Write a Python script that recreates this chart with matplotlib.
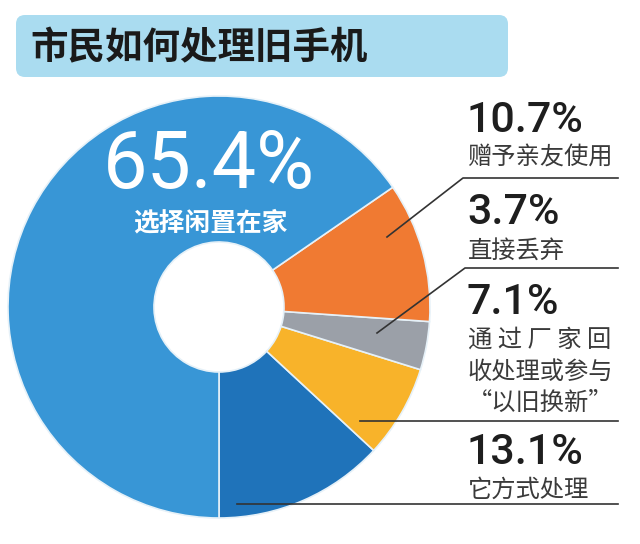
import matplotlib
matplotlib.use("Agg")
import matplotlib.pyplot as plt
from matplotlib.patches import FancyBboxPatch

plt.rcParams['font.family'] = ['Noto Sans CJK SC', 'DejaVu Sans']

# data, counter-clockwise from the bottom
shares = [13.1, 7.1, 3.7, 10.7, 65.4]
colors = ['#1f73ba', '#f8b32a', '#9ba0a8', '#f07a32', '#3896d6']
title = '市民如何处理旧手机'
main_pct = '65.4%'
main_text = '选择闲置在家'
side_pcts = ['10.7%', '3.7%', '7.1%', '13.1%']
side_texts = [['赠予亲友使用'], ['直接丢弃'],
              ['通 过 厂 家 回', '收处理或参与', '“以旧换新”'], ['它方式处理']]

H = 544
num_font = ['Roboto', 'DejaVu Sans']
fig = plt.figure(figsize=(6.4, 5.44), dpi=100)
ax = fig.add_axes([0, 0, 1, 1])

cx, cy = 219, 307
ax.pie(shares, colors=colors, startangle=270, counterclock=True,
       radius=211, center=(cx, H - cy),
       wedgeprops=dict(width=146, edgecolor='#e6f1f8', linewidth=1.2))
ax.set_xlim(0, 640)
ax.set_ylim(0, H)
ax.set_aspect('auto')
ax.axis('off')

# title banner
ax.add_patch(FancyBboxPatch((16, H - 77), 492, 62,
                            boxstyle='round,pad=0,rounding_size=9',
                            fc='#aadcf0', ec='none'))
ax.text(30, H - 48, title, fontsize=27, fontweight='bold', color='#1a1a1a',
        ha='left', va='center')

# big label inside the blue slice
ax.text(209, H - 166, main_pct, fontsize=57, family=num_font,
        color='white', ha='center', va='center')
ax.text(210, H - 223, main_text, fontsize=18.5, fontweight='bold', color='white',
        ha='center', va='center')

# side labels
pct_y = [120, 212, 302, 452]
text_y = [[157], [251], [340, 372, 403], [490]]
for pct, py, lines, ys in zip(side_pcts, pct_y, side_texts, text_y):
    ax.text(467, H - py, pct, fontsize=31, family=num_font, fontweight='medium',
            color='#1e1e1e', ha='left', va='center')
    for s, y in zip(lines, ys):
        ax.text(468, H - y, s, fontsize=17.5, color='#3a3a3a',
                ha='left', va='center')

# leader lines
lc = '#333333'
ax.plot([618, 463, 387], [H - 178, H - 178, H - 237], color=lc, lw=1.2)
ax.plot([618, 465, 377], [H - 268, H - 268, H - 333], color=lc, lw=1.2)
ax.plot([618, 360], [H - 421, H - 421], color=lc, lw=1.2)
ax.plot([618, 237], [H - 504, H - 504], color=lc, lw=1.2)

fig.savefig('out.png', dpi=100, facecolor='white')
